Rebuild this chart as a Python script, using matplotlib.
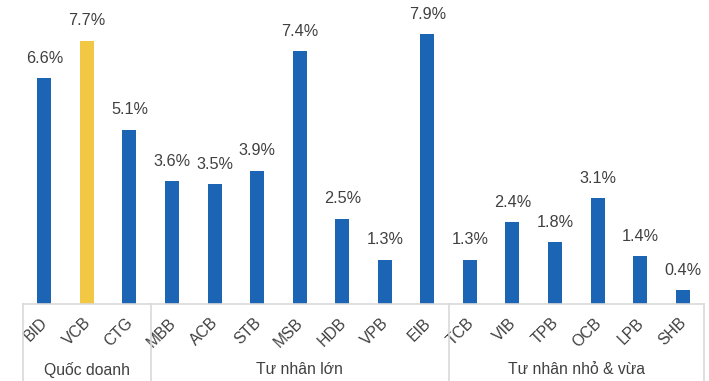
import matplotlib.pyplot as plt
from matplotlib.lines import Line2D
from matplotlib.transforms import ScaledTranslation

banks = ["BID", "VCB", "CTG", "MBB", "ACB", "STB", "MSB", "HDB", "VPB", "EIB",
         "TCB", "VIB", "TPB", "OCB", "LPB", "SHB"]
values = [6.6, 7.7, 5.1, 3.6, 3.5, 3.9, 7.4, 2.5, 1.3, 7.9,
          1.3, 2.4, 1.8, 3.1, 1.4, 0.4]
groups = ["Quốc doanh", "Tư nhân lớn", "Tư nhân nhỏ & vừa"]
group_sizes = [3, 7, 6]

plt.rcParams['font.family'] = ['Liberation Sans', 'DejaVu Sans']

fig = plt.figure(figsize=(7.09, 3.81), dpi=100)
ax = fig.add_axes([23 / 709, 77 / 381, 681 / 709, 304 / 381])

colors = ["#1c64b4"] * len(banks)
colors[1] = "#f2c744"
x = list(range(len(banks)))
bars = ax.bar(x, values, width=0.33, color=colors)

for xi, v in zip(x, values):
    ax.text(xi, v + 0.36, f"{v}%", ha='center', va='bottom', fontsize=11.7, color="#404040")

ax.set_xlim(-0.5, len(banks) - 0.5)
ax.set_ylim(0, 8.89)
ax.set_yticks([])
ax.set_xticks(x)
ax.set_xticklabels(banks, rotation=45, ha='right', va='top', rotation_mode='anchor',
                   fontsize=11.3, color="#404040")
ax.tick_params(axis='x', length=0, pad=8)
shift = ScaledTranslation(-4 / 100, 0, fig.dpi_scale_trans)
for lbl in ax.get_xticklabels():
    lbl.set_transform(lbl.get_transform() + shift)
for s in ['top', 'right', 'left']:
    ax.spines[s].set_visible(False)
ax.spines['bottom'].set_color("#d9d9d9")
ax.spines['bottom'].set_linewidth(1.2)

# group separators and names
start = 0
edges = [-0.5]
for g, n in zip(groups, group_sizes):
    edges.append(start + n - 0.5)
    center = start + (n - 1) / 2
    ax.text(center, -1.92, g, ha='center', va='center', fontsize=11.3, color="#404040",
            clip_on=False)
    start += n

for e in edges:
    ax.add_line(Line2D([e, e], [0, -2.3], color="#d9d9d9", lw=1.2, clip_on=False))

fig.savefig("out.png", dpi=100)
